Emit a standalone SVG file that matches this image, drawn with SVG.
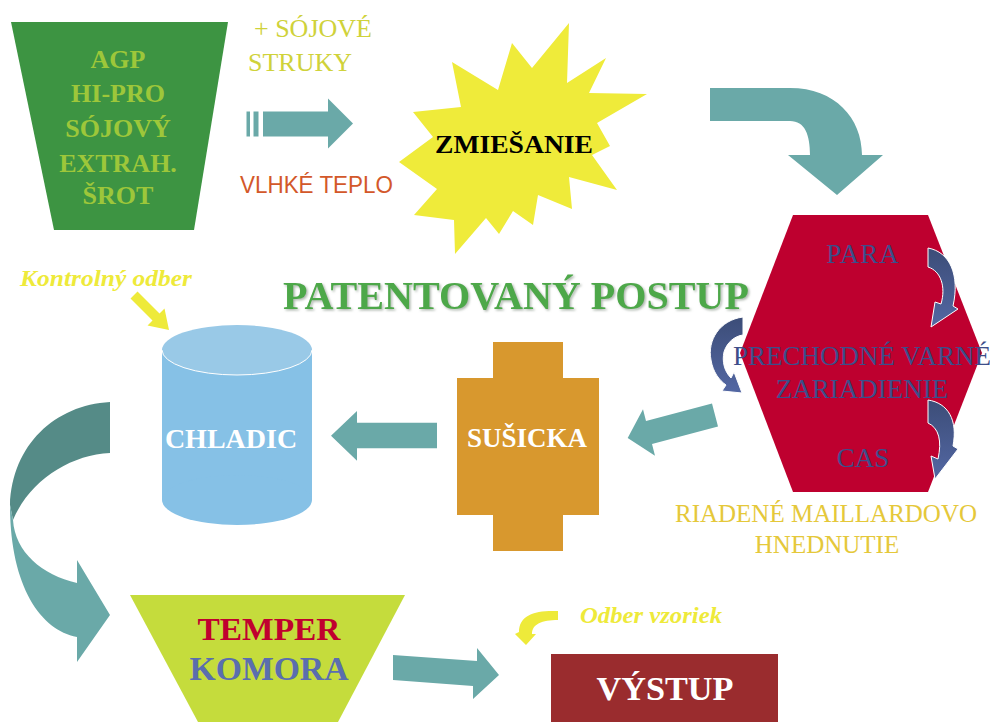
<svg xmlns="http://www.w3.org/2000/svg" width="990" height="722" viewBox="0 0 990 722">
<defs>
<style>
.serif{font-family:"Liberation Serif","Times New Roman",serif;}
.sans{font-family:"Liberation Sans",Arial,sans-serif;}
.b{font-weight:bold;}
.teal{fill:#6aa9a8;}
.blue{fill:url(#bg);stroke:#ffffff;stroke-width:1;}
.hex{fill:#3d4e8a;font-size:27px;}
.yel{fill:#eeea3a;font-style:italic;font-weight:bold;}
</style>
<linearGradient id="bg" x1="0" y1="0" x2="0" y2="1">
<stop offset="0" stop-color="#3c4d78"/>
<stop offset="1" stop-color="#5367a3"/>
</linearGradient>
<filter id="sh" x="-5%" y="-20%" width="110%" height="140%">
<feDropShadow dx="1.5" dy="1.5" stdDeviation="0.8" flood-color="#9aa59a" flood-opacity="0.8"/>
</filter>
</defs>
<rect width="990" height="722" fill="#ffffff"/>

<g id="connectors">
<rect x="246.5" y="111.5" width="3.5" height="25" class="teal"/>
<rect x="253.5" y="111.5" width="5" height="25" class="teal"/>
<polygon class="teal" points="263,111.5 328,111.5 328,98.5 353,123.5 328,148.5 328,136.5 263,136.5"/>
<path class="teal" d="M710,88 L790,88 C835,88 862,118 862,155 L883,155 L837,195 L788,155 L810,155 C810,135 805,121 790,121 L710,121 Z"/>
<polygon class="teal" points="712,403.4 718,426.6 652,444 655,455.7 627.7,438.1 643,409.3 646,421"/>
<polygon class="teal" points="437,422.7 357,422.7 357,411 331,435.7 357,460.7 357,448.3 437,448.3"/>
<path fill="#558b87" d="M110,402 C55,405 12,445 10,505 L13,520 C30,480 70,455 110,453 Z"/>
<path class="teal" d="M10,505 C10,585 40,630 77,637 L77,662 L110,615 L77,560 L77,583 C42,575 15,552 13,520 Z"/>
<polygon class="teal" points="393,655 477,661 477,648 499,675 473,699 473,686 393,680"/>
<polygon fill="#eeea3a" points="137.5,291.5 159.5,313.5 164.5,308.5 169,330 147.5,325.5 152.5,320.5 130.5,298.5"/>
<path fill="#eeea3a" d="M558,611 C535,610 519,615 519,632 L515,634 L526,645 L536,634 L532,634 C532,624 542,620 558,620 Z"/>
</g>

<g id="agp">
<polygon points="11,22 228,22 194,230 54,230" fill="#3d9442"/>
<g class="serif b" fill="#9dc73a" font-size="26" text-anchor="middle">
<text x="118" y="68">AGP</text>
<text x="118" y="102">HI-PRO</text>
<text x="118" y="137">SÓJOVÝ</text>
<text x="118" y="172">EXTRAH.</text>
<text x="118" y="204">ŠROT</text>
</g>
</g>

<g id="sojove-struky">
<text class="serif" fill="#cfd23a" font-size="26" x="254" y="37">+ SÓJOVÉ</text>
<text class="serif" fill="#cfd23a" font-size="26" x="248" y="71">STRUKY</text>
</g>

<g id="vlhke-teplo">
<text class="sans" fill="#d3582a" font-size="24" x="240" y="193" textLength="153" lengthAdjust="spacingAndGlyphs">VLHKÉ TEPLO</text>
</g>

<g id="zmiesanie">
<polygon fill="#efeb3a" points="569,23 567,83 606,58 589,93 647,94 597,123 610,146 592,155 617,190 569,177 572,209 538,195 533,225 513,211 499,234 486,218 455,254 454,220 414,215 437,189 399,162 433,137 413,112 461,107 452,62 498,90 512,43 532,68"/>
<text class="serif b" fill="#000000" font-size="26" x="514" y="153" text-anchor="middle" textLength="158" lengthAdjust="spacingAndGlyphs">ZMIEŠANIE</text>
</g>

<g id="patentovany-postup">
<text class="serif b" fill="#4ea84a" font-size="39" x="283" y="309" textLength="466" lengthAdjust="spacingAndGlyphs" filter="url(#sh)">PATENTOVANÝ POSTUP</text>
</g>

<g id="varne-zariadenie">
<polygon points="793,215 928,215 982,353 928,492 793,492 740,353" fill="#be002f"/>
<text class="serif hex" x="863" y="263" text-anchor="middle" letter-spacing="1">PARA</text>
<text class="serif hex" x="862" y="365" text-anchor="middle">PRECHODNÉ VARNÉ</text>
<text class="serif hex" x="862" y="398" text-anchor="middle">ZARIADIENIE</text>
<text class="serif hex" x="863" y="467" text-anchor="middle">CAS</text>
<path class="blue" d="M928,248 C950,252 960,275 953,306 L958,309 L931,327 L935,302 L941,304 C946,287 941,271 928,267 Z"/>
<path class="blue" d="M743,317 C720,320 707,340 711,360 C713,372 719,380 726,385 L722,391 L742,393 L734,372 L731,378 C724,371 722,361 724,352 C727,342 735,336 743,335 Z"/>
<path class="blue" d="M928,400 C948,403 958,420 953,446 L958,449 L935,479 L931,456 L938,459 C942,441 939,428 928,423 Z"/>
</g>

<g id="maillard">
<text class="serif" fill="#e5c83a" font-size="25" x="826" y="522" text-anchor="middle">RIADENÉ MAILLARDOVO</text>
<text class="serif" fill="#e5c83a" font-size="25" x="827" y="553" text-anchor="middle">HNEDNUTIE</text>
</g>

<g id="kontrolny-odber">
<text class="serif yel" font-size="24" x="20" y="286" textLength="172" lengthAdjust="spacingAndGlyphs">Kontrolný odber</text>
</g>

<g id="chladic">
<rect x="162" y="350" width="150" height="150" fill="#86c1e6"/>
<ellipse cx="237" cy="500" rx="75" ry="25" fill="#86c1e6"/>
<ellipse cx="237" cy="350" rx="75" ry="25" fill="#99c9e7"/>
<path d="M162,350 A75,25 0 0 0 312,350" fill="none" stroke="#ffffff" stroke-width="1"/>
<text class="serif b" fill="#ffffff" font-size="28" x="231" y="448" text-anchor="middle">CHLADIC</text>
</g>

<g id="susicka">
<polygon fill="#d8982e" points="493,342 563,342 563,378 599,378 599,515 563,515 563,551 493,551 493,515 457,515 457,378 493,378"/>
<text class="serif b" fill="#ffffff" font-size="27" x="527" y="447" text-anchor="middle">SUŠICKA</text>
</g>

<g id="temper-komora">
<polygon points="130,595 405,595 338,722 198,722" fill="#c5dc3c"/>
<text class="serif b" fill="#c0002f" font-size="32" x="269" y="640" text-anchor="middle" textLength="143" lengthAdjust="spacingAndGlyphs">TEMPER</text>
<text class="serif b" fill="#5a6eae" font-size="33" x="269" y="680" text-anchor="middle" textLength="159" lengthAdjust="spacingAndGlyphs">KOMORA</text>
</g>

<g id="odber-vzoriek">
<text class="serif yel" font-size="23" x="580" y="623" textLength="142" lengthAdjust="spacingAndGlyphs">Odber vzoriek</text>
</g>

<g id="vystup">
<rect x="551" y="654" width="227" height="68" fill="#9a2c2e"/>
<text class="serif b" fill="#ffffff" font-size="33" x="665" y="700" text-anchor="middle" textLength="137" lengthAdjust="spacingAndGlyphs">VÝSTUP</text>
</g>
</svg>
